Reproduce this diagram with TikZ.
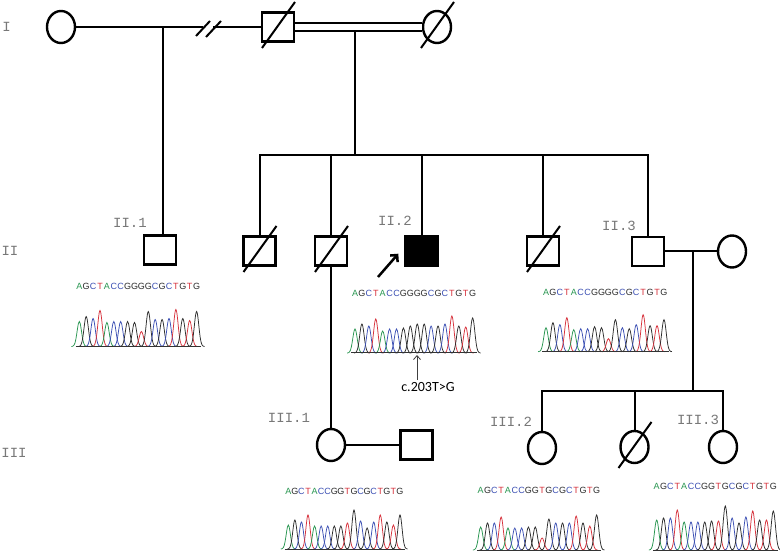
\documentclass[tikz,border=0pt]{standalone}
\usepackage{fontspec}
\setmainfont{Liberation Sans}
\newfontfamily\monof{Liberation Mono}
\newfontfamily\calib{Carlito}
\usetikzlibrary{shapes.geometric,arrows.meta}
\definecolor{baseA}{RGB}{40,150,80}
\definecolor{baseC}{RGB}{60,80,180}
\definecolor{baseG}{RGB}{45,45,45}
\definecolor{baseT}{RGB}{215,50,60}
\definecolor{lblgray}{RGB}{120,120,120}
\tikzset{
  male/.style={draw, rectangle, line width=2.4pt, minimum width=32pt, minimum height=29pt, inner sep=0pt},
  female/.style={draw, ellipse, line width=2.4pt, minimum width=28pt, minimum height=32pt, inner sep=0pt},
  affected/.style={fill=black},
  link/.style={line width=2pt},
  slashln/.style={line width=2pt},
  gen/.style={text=lblgray, font=\monof\fontsize{14}{14}\selectfont, inner sep=0pt},
  seqletter/.style={font=\fontsize{9}{9}\selectfont, inner sep=0pt},
  trace/.style={line width=0.75pt},
  traceaxis/.style={line width=1pt, color=black!80},
  probarrow/.style={line width=2.5pt, -{Straight Barb[length=5pt,width=10pt]}},
  mutarrow/.style={line width=0.8pt, color=black!75, -{Straight Barb[length=4pt,width=7pt]}},
}
\newcommand\deceased[1]{\draw[slashln] ([shift={(-16,21)}]#1.center) -- ([shift={(17,-25)}]#1.center);}
\newcommand\seqtrace[6]{%
  \foreach \L/\c/\h [count=\i from 0] in {#5}{
    \pgfmathsetmacro\px{#1+\i*#2}
    \node[seqletter, text=base\L] (#6\i) at (\px,#3) {\L};
    \draw[trace, color=base\c] plot[domain=-1.15:1.15, samples=19, smooth] ({\px+\x*#2},{#4-\h*exp(-(\x/0.45)^2)});
  }
  \draw[traceaxis] ({#1-0.55*#2},#4) -- ({#1+17.7*#2},#4);
}
\begin{document}
\begin{tikzpicture}[x=1pt,y=-1pt]
\fill[white] (0,0) rectangle (780,553);
\useasboundingbox (0,0) rectangle (780,553);

% generation labels
\node[gen] (gI) at (6.5,27) {I};
\node[gen] (gII) at (10,251) {II};
\node[gen] (gIII) at (14,453) {III};

% generation I
\node[female] (i1) at (61,27) {};
\node[male] (i2) at (278,27) {};
\node[female] (i3) at (437,27) {};
\deceased{i2}
\deceased{i3}
\coordinate (bkL) at (203,27);
\coordinate (bkR) at (213,27);
\draw[link] (i1.east) -- (bkL);
\draw[link] (bkR) -- (i2.west);
\draw[link] ([shift={(-7,9)}]bkL) -- ([shift={(7,-6)}]bkL);
\draw[link] ([shift={(-7,10)}]bkR) -- ([shift={(8,-6)}]bkR);
\draw[line width=2pt, double, double distance=5.4pt] (i2.east) -- (i3.west);
\coordinate (j1) at (163,27);
\coordinate (d1) at (355,31);
\coordinate (sib2) at (355,155);
\draw[link] (d1) -- (sib2);

% generation II
\node[male] (ii1) at (160,250) {};
\node[male] (iia) at (259.5,251) {};
\node[male] (iib) at (331,251) {};
\node[male, affected] (ii2) at (421.5,251) {};
\node[male] (iid) at (543,251) {};
\node[male] (ii3) at (648,251.5) {};
\node[female] (ii3w) at (732,251.5) {};
\deceased{iia}
\deceased{iib}
\deceased{iid}
\draw[link] (j1) -- (j1 |- ii1.north);
\draw[link] (iia.north) -- (iia.north |- sib2) -- (ii3.north |- sib2) -- (ii3.north);
\draw[link] (iib.north) -- (iib.north |- sib2);
\draw[link] (ii2.north) -- (ii2.north |- sib2);
\draw[link] (iid.north) -- (iid.north |- sib2);
\draw[link] (ii3.east) -- (ii3w.west);

\node[gen] (l21) at (130,223) {II.1};
\node[gen] (l22) at (395,221) {II.2};
\node[gen] (l23) at (619,226) {II.3};

\coordinate (pa) at (378,277);
\draw[probarrow] (pa) -- ([shift={(-6,-13)}]ii2.south west);

% generation III
\node[female] (iii1) at (331,445) {};
\node[male] (iii1h) at (416.5,445) {};
\node[female] (iii2) at (542,448) {};
\node[female] (iiix) at (634.5,447) {};
\node[female] (iii3) at (723,447) {};
\deceased{iiix}
\draw[link] (iib.south) -- (iib.south |- iii1.north);
\draw[link] (iii1.east) -- (iii1h.west);
\coordinate (mj) at (693,251.5);
\coordinate (sib3) at (693,391);
\draw[link] (mj) -- (sib3);
\draw[link] (iii2.north) -- (iii2.north |- sib3) -- (iii3.north |- sib3) -- (iii3.north);
\draw[link] (iiix.north) -- (iiix.north |- sib3);

\node[gen] (l31) at (289,418) {III.1};
\node[gen] (l32) at (511,422) {III.2};
\node[gen] (l33) at (698,420) {III.3};

% sequences and traces
\seqtrace{79.3}{6.9}{286}{346.5}{A/A/25,G/G/30,C/C/28,T/T/36,A/A/24,C/C/25,C/C/25,G/G/25,G/G/24,G/T/15,G/G/35,C/C/27,G/G/27,C/C/28,T/T/37,G/G/28,T/T/26,G/G/35}{sa}
\seqtrace{355}{6.92}{293}{353}{A/A/24,G/G/29,C/C/27,T/T/34,A/A/22,C/C/24,C/C/24,G/G/25,G/G/27,G/G/29,G/G/29,C/C/27,G/G/27,C/C/29,T/T/37,G/G/27,T/T/26,G/G/35}{sb}
\seqtrace{546}{6.94}{292.7}{351.7}{A/A/24,G/G/29,C/C/27,T/T/34,A/A/22,C/C/23,C/C/23,G/G/25,G/G/24,G/T/13,G/G/32,C/C/24,G/G/23,C/C/27,T/T/37,G/G/26,T/T/26,G/G/32}{sc}
\seqtrace{288.3}{6.57}{491.7}{549}{A/A/24,G/G/29,C/C/27,T/T/34,A/A/23,C/C/23,C/C/23,G/G/23,G/G/23,T/T/26,G/G/39,C/C/28,G/G/21,C/C/27,T/T/34,G/G/27,T/T/24,G/G/34}{sd}
\seqtrace{480.7}{6.82}{490.7}{550}{A/A/23,G/G/27,C/C/27,T/T/33,A/A/22,C/C/22,C/C/22,G/G/23,G/G/23,T/T/12,G/G/31,C/C/27,G/G/27,C/C/27,T/T/34,G/G/27,T/T/24,G/G/35}{se}
\seqtrace{656.7}{6.86}{486.7}{550}{A/A/30,G/G/32,C/C/32,T/T/40,A/A/28,C/C/28,C/C/28,G/G/28,G/G/29,T/T/29,G/G/44,C/C/32,G/G/27,C/C/33,T/T/39,G/G/30,T/T/30,G/G/39}{sf}

% mutation marker
\node[font=\calib\fontsize{14}{14}\selectfont, inner sep=2pt] (mut) at (428,387) {c.203T>G};
\coordinate (mpt) at (417,355);
\draw[mutarrow] (mut.north -| mpt) -- (mpt);
\end{tikzpicture}
\end{document}
